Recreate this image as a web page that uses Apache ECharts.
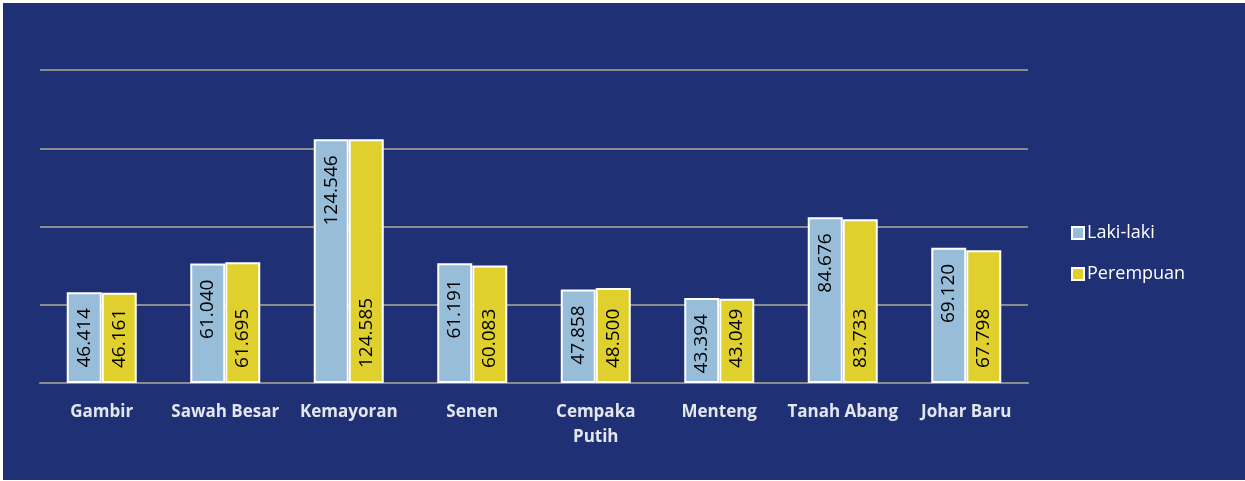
<!DOCTYPE html>
<html>
<head>
<meta charset="utf-8">
<script src="https://cdn.jsdelivr.net/npm/echarts@6/dist/echarts.min.js"></script>
<style>
  html, body { margin: 0; padding: 0; background: #ffffff; }
  #chart { position: absolute; left: 3px; top: 3px; width: 1242px; height: 477px; }
</style>
</head>
<body>
<div id="chart"></div>
<script>
var kecamatan = ['Gambir', 'Sawah Besar', 'Kemayoran', 'Senen', 'Cempaka Putih', 'Menteng', 'Tanah Abang', 'Johar Baru'];
var lakiLaki = [46414, 61040, 124546, 61191, 47858, 43394, 84676, 69120];
var perempuan = [46161, 61695, 124585, 60083, 48500, 43049, 83733, 67798];
var seriesNames = ['Laki-laki', 'Perempuan'];

// 46414 -> "46.414"
function fmt(v) {
  return String(v).replace(/\B(?=(\d{3})+(?!\d))/g, '.');
}

var myChart = echarts.init(document.getElementById('chart'));
myChart.setOption({
  backgroundColor: '#1f3174',
  animation: false,
  textStyle: { fontFamily: 'Open Sans' },
  grid: { left: 37, right: 217, top: 67, bottom: 97 },
  legend: {
    orient: 'vertical',
    left: 1063,
    top: 216,
    itemWidth: 12,
    itemHeight: 12,
    itemGap: 23,
    icon: 'rect',
    data: seriesNames,
    textStyle: { color: '#ffffff', fontSize: 18, padding: [0, 0, 0, -2] }
  },
  xAxis: {
    type: 'category',
    data: kecamatan,
    axisLine: { lineStyle: { color: '#8c8c8c', width: 2 } },
    axisTick: { length: 5, lineStyle: { color: '#8c8c8c', width: 2 } },
    axisLabel: {
      interval: 0,
      color: '#e4e6ee',
      fontSize: 17,
      fontWeight: 'bold',
      margin: 17,
      lineHeight: 25,
      formatter: function (v) {
        return v === 'Cempaka Putih' ? 'Cempaka\nPutih' : v;
      }
    }
  },
  yAxis: {
    type: 'value',
    min: 0,
    max: 160000,
    interval: 40000,
    axisLine: { show: false },
    axisTick: { show: false },
    axisLabel: { show: false },
    splitLine: { lineStyle: { color: '#8c8c8c', width: 2 } }
  },
  series: [
    {
      name: seriesNames[0],
      type: 'bar',
      barWidth: 35,
      barGap: '0%',
      data: lakiLaki,
      itemStyle: { color: '#98bdd8', borderColor: '#ffffff', borderWidth: 2 },
      label: {
        show: true,
        position: 'insideTop',
        rotate: 90,
        align: 'right',
        verticalAlign: 'middle',
        distance: 16,
        color: '#000000',
        fontSize: 19,
        formatter: function (p) { return fmt(p.value); }
      }
    },
    {
      name: seriesNames[1],
      type: 'bar',
      barWidth: 35,
      data: perempuan,
      itemStyle: { color: '#e0d02e', borderColor: '#ffffff', borderWidth: 2 },
      label: {
        show: true,
        position: 'insideBottom',
        rotate: 90,
        align: 'left',
        verticalAlign: 'middle',
        distance: 15,
        color: '#000000',
        fontSize: 19,
        formatter: function (p) { return fmt(p.value); }
      }
    }
  ]
});
</script>
</body>
</html>
